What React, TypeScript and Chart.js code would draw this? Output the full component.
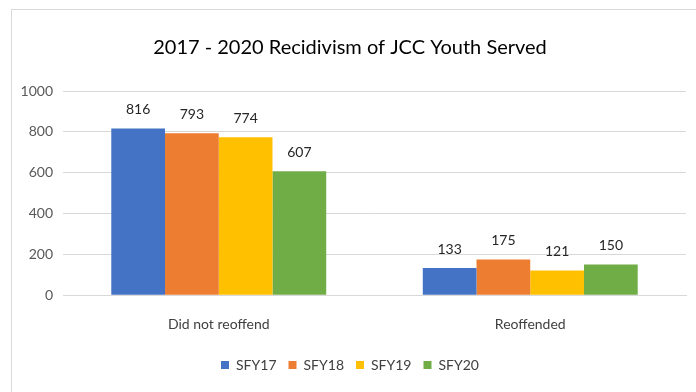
import React, { useEffect, useRef } from "react";
import { Chart, registerables } from "chart.js";

Chart.register(...registerables);

const categories = ["Did not reoffend", "Reoffended"];
const seriesNames = ["SFY17", "SFY18", "SFY19", "SFY20"];
const sfy17 = [816, 133];
const sfy18 = [793, 175];
const sfy19 = [774, 121];
const sfy20 = [607, 150];
const colors = ["#4472C4", "#ED7D31", "#FFC000", "#70AD47"];
const yTicks = [0, 200, 400, 600, 800, 1000];

const FONT = "Lato, sans-serif";

const valueLabels = {
  id: "valueLabels",
  afterDatasetsDraw(chart: any) {
    const ctx = chart.ctx;
    ctx.save();
    ctx.fillStyle = "#262626";
    ctx.font = `14px ${FONT}`;
    ctx.textAlign = "center";
    ctx.textBaseline = "middle";
    chart.data.datasets.forEach((ds: any, i: number) => {
      const meta = chart.getDatasetMeta(i);
      meta.data.forEach((bar: any, j: number) => {
        ctx.fillText(String(ds.data[j]), bar.x, bar.y - 19);
      });
    });
    ctx.restore();
  },
};

export default function App() {
  const ref = useRef<HTMLCanvasElement>(null);
  useEffect(() => {
    document.body.style.margin = "0";
    const all = [sfy17, sfy18, sfy19, sfy20];
    const chart = new Chart(ref.current!, {
      type: "bar",
      data: {
        labels: categories,
        datasets: seriesNames.map((name, i) => ({
          label: name,
          data: all[i],
          backgroundColor: colors[i],
          borderWidth: 0,
          categoryPercentage: 0.69,
          barPercentage: 1,
        })),
      },
      options: {
        responsive: false,
        animation: false,
        devicePixelRatio: 1,
        layout: { padding: { left: 14, right: 10, top: 31, bottom: 10 } },
        plugins: {
          title: {
            display: true,
            text: "2017 - 2020 Recidivism of JCC Youth Served",
            color: "#000000",
            font: { family: FONT, size: 20, weight: "normal" as any },
            padding: { top: 5, bottom: 31 },
          },
          legend: {
            position: "bottom",
            labels: {
              boxWidth: 8,
              boxHeight: 8,
              color: "#404040",
              font: { family: FONT, size: 14 },
              padding: 12,
            },
          },
          tooltip: { enabled: false },
        },
        scales: {
          x: {
            grid: { display: false },
            border: { color: "#d9d9d9" },
            ticks: { color: "#404040", font: { family: FONT, size: 14 }, padding: 13 },
          },
          y: {
            min: 0,
            max: 1000,
            afterBuildTicks(axis: any) {
              axis.ticks = yTicks.map((v) => ({ value: v }));
            },
            afterFit(axis: any) {
              axis.width = 49;
            },
            grid: { color: "#d9d9d9", drawTicks: false },
            border: { display: false },
            ticks: {
              color: "#595959",
              font: { family: FONT, size: 14 },
              padding: 10,
              callback: (v: any) => String(v),
            },
          },
        },
      },
      plugins: [valueLabels],
    });
    return () => chart.destroy();
  }, []);
  return (
    <div style={{ position: "relative", width: 696, height: 392, background: "#fff", overflow: "hidden" }}>
      <div
        style={{
          position: "absolute",
          left: 11,
          top: 9,
          width: 720,
          height: 420,
          border: "1px solid #d9d9d9",
          boxSizing: "border-box",
        }}
      />
      <canvas ref={ref} width={696} height={392} style={{ position: "absolute", left: 0, top: 0 }} />
    </div>
  );
}
